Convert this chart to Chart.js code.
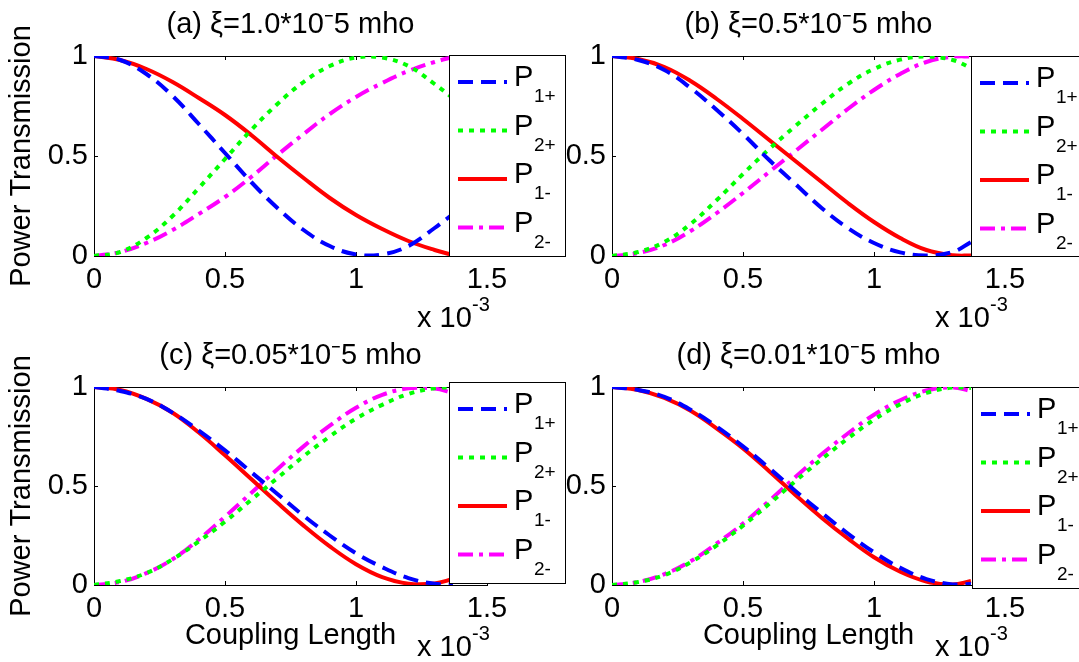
<!DOCTYPE html>
<html>
<head>
<meta charset="utf-8">
<script src="https://cdn.jsdelivr.net/npm/chart.js@4.4.0/dist/chart.umd.min.js"></script>
<style>
  body { margin: 0; width: 1079px; height: 662px; overflow: hidden; background: #fff; position: relative; }
  canvas { position: absolute; }
</style>
</head>
<body>
<canvas id="pa" width="580" height="331" style="left:0;top:0"></canvas>
<canvas id="pb" width="539" height="331" style="left:540px;top:0"></canvas>
<canvas id="pc" width="580" height="331" style="left:0;top:331px"></canvas>
<canvas id="pd" width="539" height="331" style="left:540px;top:331px"></canvas>
<script>
// coupling length, in units of 1e-3
const xs = [0, 0.1, 0.2, 0.3, 0.4, 0.5, 0.6, 0.7, 0.8, 0.9, 1.0, 1.1, 1.2, 1.3, 1.37];
const xTicks = [0, 0.5, 1, 1.5];
const yTicks = [0, 0.5, 1];
const titles = ["(a) ξ=1.0*10⁻5 mho", "(b) ξ=0.5*10⁻5 mho", "(c) ξ=0.05*10⁻5 mho", "(d) ξ=0.01*10⁻5 mho"];
const legendSubs = ["1+", "2+", "1-", "2-"];

// (a)
const aP1p = [1.00, 0.98, 0.91, 0.80, 0.66, 0.515, 0.37, 0.24, 0.13, 0.05, 0.008, 0.008, 0.05, 0.14, 0.21];
const aP2p = [0.00, 0.02, 0.09, 0.20, 0.34, 0.485, 0.63, 0.76, 0.87, 0.95, 0.992, 0.992, 0.95, 0.86, 0.79];
const aP1m = [1.00, 0.98, 0.935, 0.87, 0.79, 0.705, 0.605, 0.495, 0.39, 0.29, 0.205, 0.135, 0.075, 0.03, 0.005];
const aP2m = [0.00, 0.02, 0.065, 0.13, 0.21, 0.295, 0.395, 0.505, 0.61, 0.71, 0.795, 0.865, 0.925, 0.97, 0.995];
// (b)
const bP1p = [1.00, 0.98, 0.93, 0.84, 0.73, 0.61, 0.48, 0.36, 0.24, 0.14, 0.065, 0.018, 0.003, 0.02, 0.07];
const bP2p = [0.00, 0.02, 0.07, 0.16, 0.28, 0.41, 0.535, 0.65, 0.76, 0.86, 0.935, 0.982, 0.997, 0.98, 0.94];
const bP1m = [1.00, 0.985, 0.945, 0.875, 0.785, 0.685, 0.58, 0.475, 0.37, 0.265, 0.17, 0.09, 0.03, 0.004, 0.002];
const bP2m = [0.00, 0.015, 0.055, 0.125, 0.215, 0.315, 0.42, 0.525, 0.63, 0.735, 0.83, 0.91, 0.97, 0.996, 0.998];
// (c)
const cP1p = [1.00, 0.98, 0.94, 0.87, 0.78, 0.68, 0.57, 0.46, 0.35, 0.25, 0.16, 0.09, 0.035, 0.006, 0.002];
const cP2p = [0.00, 0.02, 0.06, 0.13, 0.22, 0.32, 0.43, 0.54, 0.65, 0.75, 0.84, 0.91, 0.965, 0.994, 0.998];
const cP1m = [1.00, 0.985, 0.94, 0.87, 0.77, 0.655, 0.535, 0.415, 0.30, 0.195, 0.105, 0.04, 0.007, 0.008, 0.03];
const cP2m = [0.00, 0.015, 0.06, 0.13, 0.23, 0.345, 0.465, 0.585, 0.70, 0.805, 0.895, 0.96, 0.993, 0.992, 0.97];
// (d)
const dP1p = [1.00, 0.985, 0.95, 0.885, 0.80, 0.70, 0.59, 0.475, 0.365, 0.26, 0.165, 0.087, 0.03, 0.003, 0.005];
const dP2p = [0.00, 0.015, 0.05, 0.115, 0.20, 0.30, 0.41, 0.525, 0.635, 0.74, 0.835, 0.913, 0.97, 0.997, 0.995];
const dP1m = [1.00, 0.985, 0.945, 0.88, 0.79, 0.69, 0.575, 0.455, 0.34, 0.235, 0.14, 0.067, 0.018, 0.002, 0.02];
const dP2m = [0.00, 0.015, 0.055, 0.12, 0.21, 0.31, 0.425, 0.545, 0.66, 0.765, 0.86, 0.933, 0.982, 0.998, 0.98];

const FONT = '"Liberation Sans", Arial, sans-serif';
const styles = [
  { color: "#0000ff", dash: [15, 8] },
  { color: "#00ff00", dash: [5, 6] },
  { color: "#ff0000", dash: [] },
  { color: "#ff00ff", dash: [15, 6, 4, 6] }
];

function extrasPlugin(legendBox) {
  return {
    id: "extras",
    beforeDatasetsDraw(chart) {
      const { ctx, chartArea: a, scales } = chart;
      ctx.save();
      ctx.strokeStyle = "#000";
      ctx.lineWidth = 1;
      ctx.strokeRect(Math.round(a.left) + 0.5, Math.round(a.top) + 0.5, Math.round(a.right - a.left), Math.round(a.bottom - a.top));
      ctx.beginPath();
      scales.x.ticks.forEach(t => {
        const px = Math.round(scales.x.getPixelForValue(t.value)) + 0.5;
        ctx.moveTo(px, a.bottom); ctx.lineTo(px, a.bottom - 4);
        ctx.moveTo(px, a.top); ctx.lineTo(px, a.top + 4);
      });
      scales.y.ticks.forEach(t => {
        const py = Math.round(scales.y.getPixelForValue(t.value)) + 0.5;
        ctx.moveTo(a.left, py); ctx.lineTo(a.left + 4, py);
      });
      ctx.stroke();
      ctx.restore();
    },
    afterDraw(chart) {
      const { ctx, chartArea: a } = chart;
      ctx.save();
      // x 10^-3
      ctx.fillStyle = "#000";
      ctx.textAlign = "left";
      ctx.textBaseline = "middle";
      ctx.font = "29px " + FONT;
      ctx.fillText("x 10", a.right - 70, a.bottom + 63);
      ctx.font = "20px " + FONT;
      ctx.fillText("-3", a.right - 15, a.bottom + 49);

      // legend
      const b = legendBox;
      ctx.fillStyle = "#fff";
      ctx.fillRect(b.x, b.y, b.w, b.h);
      ctx.strokeStyle = "#000";
      ctx.lineWidth = 1;
      ctx.strokeRect(b.x + 0.5, b.y + 0.5, b.w, b.h);
      styles.forEach((s, i) => {
        const y = b.y + 27 + i * 48.5;
        ctx.strokeStyle = s.color;
        ctx.lineWidth = 4;
        ctx.setLineDash(s.dash);
        ctx.beginPath();
        ctx.moveTo(b.x + 9, y);
        ctx.lineTo(b.x + 58, y);
        ctx.stroke();
        ctx.setLineDash([]);
        ctx.fillStyle = "#000";
        ctx.font = "29px " + FONT;
        ctx.fillText("P", b.x + 65, y - 4);
        ctx.font = "19px " + FONT;
        ctx.fillText(legendSubs[i], b.x + 85, y + 15);
      });
      ctx.restore();
    }
  };
}

function makePanel(id, title, series, o) {
  const datasets = series.map((vals, i) => ({
    data: xs.map((x, j) => ({ x: x, y: vals[j] })),
    borderColor: styles[i].color,
    borderDash: styles[i].dash,
    borderWidth: 4,
    pointRadius: 0,
    fill: false,
    tension: 0.4
  }));
  return new Chart(document.getElementById(id), {
    type: "line",
    data: { datasets: datasets },
    options: {
      responsive: false,
      animation: false,
      layout: { padding: { left: 0, right: o.padRight, top: 0, bottom: 0 } },
      plugins: {
        legend: { display: false },
        tooltip: { enabled: false },
        title: {
          display: true,
          text: title,
          fullSize: false,
          color: "#000",
          font: { family: FONT, size: 29, weight: "normal" },
          padding: { top: 8, bottom: 13.2 }
        }
      },
      scales: {
        x: {
          type: "linear",
          min: 0,
          max: 1.5,
          grid: { display: false, drawTicks: false },
          border: { display: false },
          afterBuildTicks: s => { s.ticks = xTicks.map(v => ({ value: v })); },
          afterFit: s => { s.height = o.xHeight; s.paddingLeft = 0; s.paddingRight = 0; },
          ticks: {
            color: "#000",
            font: { family: FONT, size: 29 },
            padding: 7,
            maxRotation: 0,
            autoSkip: false,
            callback: v => String(v)
          },
          title: {
            display: o.xTitle,
            text: "Coupling Length",
            color: "#000",
            font: { family: FONT, size: 29 },
            padding: { top: 0, bottom: 8.6 }
          }
        },
        y: {
          min: 0,
          max: 1,
          grid: { display: false, drawTicks: false },
          border: { display: false },
          afterBuildTicks: s => { s.ticks = yTicks.map(v => ({ value: v })); },
          afterFit: s => { s.width = o.yWidth; s.paddingTop = 0; s.paddingBottom = 0; },
          ticks: {
            color: "#000",
            font: { family: FONT, size: 29 },
            padding: 6,
            autoSkip: false,
            callback: v => String(v)
          },
          title: {
            display: o.yTitle,
            text: "Power Transmission",
            color: "#000",
            font: { family: FONT, size: 29 },
            padding: { top: 4.6, bottom: 0 }
          }
        }
      }
    },
    plugins: [extrasPlugin(o.legend)]
  });
}

makePanel("pa", titles[0], [aP1p, aP2p, aP1m, aP2m],
  { padRight: 93, xHeight: 75, yWidth: 94, yTitle: true, xTitle: false, legend: { x: 449, y: 55, w: 116, h: 201 } });
makePanel("pb", titles[1], [bP1p, bP2p, bP1m, bP2m],
  { padRight: 74, xHeight: 75, yWidth: 72, yTitle: false, xTitle: false, legend: { x: 431, y: 56, w: 130, h: 200 } });
makePanel("pc", titles[2], [cP1p, cP2p, cP1m, cP2m],
  { padRight: 93, xHeight: 77, yWidth: 94, yTitle: true, xTitle: true, legend: { x: 449, y: 51, w: 116, h: 201 } });
makePanel("pd", titles[3], [dP1p, dP2p, dP1m, dP2m],
  { padRight: 74, xHeight: 77, yWidth: 72, yTitle: false, xTitle: true, legend: { x: 432, y: 56, w: 130, h: 201 } });
</script>
</body>
</html>
